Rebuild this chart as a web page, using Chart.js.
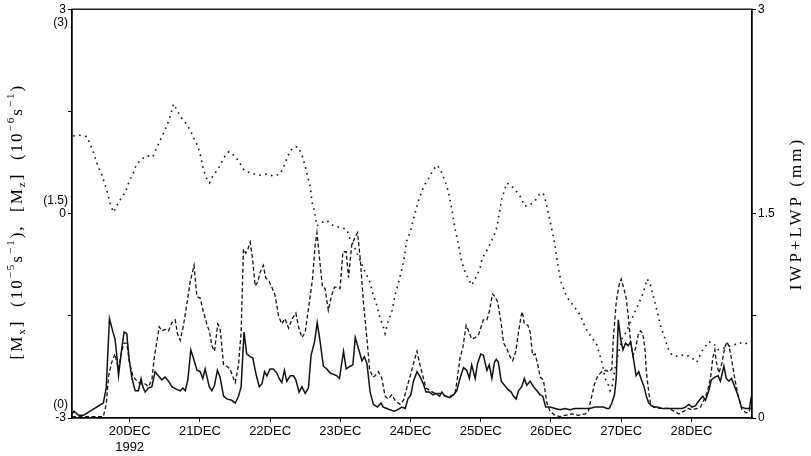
<!DOCTYPE html>
<html>
<head>
<meta charset="utf-8">
<script src="https://cdn.jsdelivr.net/npm/chart.js@4.4.0/dist/chart.umd.min.js"></script>
<style>
  html, body { margin: 0; padding: 0; background: #fff; }
  #wrap { width: 811px; height: 456px; }
</style>
</head>
<body>
<div id="wrap"><canvas id="chart" width="811" height="456"></canvas></div>
<script>
// time axis: hours counted from 19 DEC 1992 00Z
const dayHours = [24, 48, 72, 96, 120, 144, 168, 192, 216];
const dayLabels = ['20DEC', '21DEC', '22DEC', '23DEC', '24DEC', '25DEC', '26DEC', '27DEC', '28DEC'];
const yearLabel = '1992';

const mxTicks = [-3, 0, 3];          // left axis, [Mx] (10^-5 s^-1)
const mzTicks = [0, 1.5, 3];         // left axis in brackets, [Mz] (10^-6 s^-1)
const mzTickLabels = ['(0)', '(1.5)', '(3)'];
const wpTicks = [0, 1.5, 3];         // right axis, IWP+LWP (mm)

// [Mx] - dotted
const mxHours = [4.7, 6.8, 9.4, 10.5, 11.6, 13.3, 14.5, 16.2, 17.6, 18.5, 19.8, 21.3, 22.5, 23.9, 25.3, 26.2, 27.8, 29.9, 31.9, 33.1,
  34.4, 36.7, 37.6, 39.0, 40.3, 41.8, 43.5, 44.9, 46.0, 47.2, 48.1, 49.2, 50.1, 51.3, 52.6, 54.1, 55.5, 56.9, 58.0, 60.1,
  61.8, 63.2, 65.2, 68.0, 70.9, 73.1, 75.4, 76.6, 77.7, 78.9, 80.3, 81.5, 82.9, 84.0, 84.9, 85.7, 86.3, 87.2, 88.0, 89.7,
  91.4, 93.7, 95.6, 98.2, 99.1, 100.5, 101.6, 103.0, 104.5, 105.9, 107.3, 108.5, 109.6, 110.7, 111.3, 112.4, 113.6, 114.7, 116.2, 117.6,
  118.7, 119.9, 121.2, 122.7, 124.6, 126.1, 127.6, 129.0, 130.1, 131.0, 132.2, 133.0, 134.1, 135.2, 136.7, 137.5, 138.7, 139.8, 140.9, 142.7,
  143.8, 144.4, 145.7, 146.9, 148.0, 149.2, 149.8, 150.3, 151.2, 152.1, 152.9, 154.4, 156.3, 158.0, 158.9, 160.5, 162.6, 164.3, 165.4, 166.2,
  167.4, 168.5, 169.4, 170.0, 170.8, 171.5, 172.3, 173.4, 175.1, 176.5, 178.0, 179.1, 180.6, 182.2, 183.7, 184.5, 185.4, 186.5, 187.4, 188.2,
  189.0, 189.7, 190.6, 192.3, 193.7, 195.2, 196.7, 198.0, 199.4, 200.9, 202.0, 203.2, 204.3, 205.4, 206.6, 208.0, 209.4, 211.7, 213.4, 215.7,
  217.9, 219.4, 221.9, 223.7, 225.1, 226.7, 228.5, 230.5, 232.2, 234.2, 235.6, 236.7];
const mxValues = [1.14, 1.15, 1.13, 1.02, 0.90, 0.68, 0.57, 0.34, 0.11, 0.02, 0.13, 0.24, 0.31, 0.48, 0.60, 0.71, 0.79, 0.85, 0.83, 0.95,
  1.07, 1.29, 1.39, 1.61, 1.51, 1.40, 1.31, 1.21, 1.10, 1.00, 0.87, 0.65, 0.53, 0.45, 0.57, 0.64, 0.76, 0.87, 0.91, 0.84,
  0.73, 0.63, 0.60, 0.56, 0.58, 0.55, 0.58, 0.68, 0.81, 0.92, 0.98, 0.98, 0.86, 0.70, 0.53, 0.41, 0.17, 0.03, -0.18, -0.13,
  -0.10, -0.18, -0.20, -0.23, -0.35, -0.46, -0.57, -0.71, -0.86, -0.98, -1.20, -1.35, -1.54, -1.66, -1.76, -1.57, -1.44, -1.20, -0.96, -0.71,
  -0.40, -0.27, -0.05, 0.19, 0.41, 0.51, 0.63, 0.71, 0.66, 0.56, 0.43, 0.31, 0.07, -0.22, -0.52, -0.71, -0.86, -0.96, -1.05, -0.91,
  -0.79, -0.66, -0.57, -0.47, -0.37, -0.25, -0.13, 0.00, 0.22, 0.34, 0.45, 0.41, 0.32, 0.22, 0.11, 0.12, 0.19, 0.30, 0.29, 0.18,
  -0.05, -0.27, -0.47, -0.66, -0.86, -1.01, -1.10, -1.22, -1.32, -1.40, -1.49, -1.61, -1.74, -1.83, -1.93, -2.05, -2.18, -2.42, -2.49, -2.60,
  -2.52, -2.32, -2.13, -1.83, -1.74, -1.59, -1.44, -1.32, -1.18, -0.96, -1.05, -1.25, -1.44, -1.64, -1.79, -1.98, -2.08, -2.10, -2.07, -2.10,
  -2.18, -2.03, -1.88, -1.91, -2.00, -1.98, -1.95, -1.93, -1.89, -1.92, -1.88, -1.87];

// [Mz] - solid
const mzHours = [4.3, 5.0, 6.5, 8.2, 10.5, 15.0, 16.0, 17.1, 18.3, 19.0, 19.6, 20.2, 21.3, 22.1, 23.0, 23.8, 24.8, 25.9, 27.0, 27.9,
  28.5, 29.3, 30.4, 31.6, 32.7, 33.8, 35.0, 36.1, 37.3, 38.4, 40.1, 41.3, 42.2, 43.0, 43.9, 44.9, 45.8, 47.0, 48.1, 49.0,
  49.8, 51.2, 52.1, 53.0, 54.0, 54.9, 56.1, 57.2, 58.9, 60.1, 61.2, 62.1, 63.1, 64.0, 65.2, 66.1, 67.1, 68.3, 69.2, 70.1,
  70.9, 72.0, 73.1, 74.3, 75.1, 76.0, 76.9, 77.7, 78.9, 80.0, 80.8, 81.9, 82.9, 84.0, 85.1, 86.0, 87.2, 88.1, 89.1, 90.2,
  91.4, 92.5, 93.7, 94.8, 95.7, 97.1, 98.0, 99.4, 100.3, 101.1, 102.2, 103.4, 104.2, 105.1, 106.2, 107.3, 108.7, 109.9, 110.7, 111.9,
  113.0, 114.4, 115.5, 117.0, 118.2, 119.1, 120.1, 121.0, 122.2, 123.3, 124.4, 125.3, 126.5, 127.6, 128.7, 129.9, 130.7, 131.8, 133.3, 134.7,
  135.8, 136.9, 138.1, 139.2, 140.1, 140.9, 142.1, 142.9, 144.0, 144.9, 146.1, 146.9, 147.8, 148.7, 149.3, 150.0, 151.0, 152.1, 153.3, 154.4,
  155.2, 156.1, 156.9, 158.0, 158.9, 159.7, 160.9, 162.0, 163.2, 164.3, 165.2, 166.2, 167.7, 169.4, 171.1, 172.8, 174.5, 176.2, 177.9, 179.6,
  181.3, 183.0, 184.7, 185.9, 187.1, 187.9, 188.8, 189.7, 190.3, 191.0, 191.8, 192.6, 193.5, 194.4, 195.2, 196.0, 197.1, 198.0, 198.9, 199.8,
  200.6, 201.4, 202.3, 203.1, 204.3, 206.0, 207.7, 209.4, 211.1, 212.8, 214.0, 215.1, 216.2, 217.4, 218.7, 219.9, 220.8, 221.9, 222.8, 224.0,
  225.1, 225.9, 227.1, 227.9, 228.8, 229.7, 230.8, 232.0, 233.1, 234.5, 235.8, 236.5];
const mzValues = [0.03, 0.05, 0.02, 0.02, 0.05, 0.11, 0.22, 0.73, 0.63, 0.58, 0.46, 0.31, 0.51, 0.63, 0.62, 0.44, 0.29, 0.20, 0.20, 0.29,
  0.23, 0.19, 0.22, 0.23, 0.34, 0.31, 0.28, 0.30, 0.27, 0.23, 0.21, 0.20, 0.22, 0.20, 0.28, 0.50, 0.44, 0.35, 0.34, 0.29,
  0.36, 0.23, 0.20, 0.24, 0.35, 0.30, 0.16, 0.14, 0.13, 0.11, 0.16, 0.23, 0.63, 0.47, 0.45, 0.44, 0.33, 0.23, 0.25, 0.34,
  0.31, 0.36, 0.36, 0.33, 0.29, 0.26, 0.35, 0.27, 0.31, 0.31, 0.28, 0.19, 0.23, 0.18, 0.22, 0.46, 0.56, 0.70, 0.56, 0.38,
  0.36, 0.33, 0.32, 0.31, 0.29, 0.49, 0.36, 0.38, 0.39, 0.59, 0.51, 0.42, 0.45, 0.40, 0.19, 0.10, 0.08, 0.11, 0.08, 0.07,
  0.06, 0.05, 0.06, 0.08, 0.07, 0.14, 0.17, 0.27, 0.34, 0.30, 0.25, 0.19, 0.19, 0.17, 0.18, 0.16, 0.19, 0.16, 0.15, 0.17,
  0.20, 0.29, 0.37, 0.35, 0.29, 0.39, 0.29, 0.40, 0.47, 0.46, 0.35, 0.39, 0.29, 0.41, 0.43, 0.41, 0.27, 0.24, 0.21, 0.19,
  0.16, 0.14, 0.20, 0.23, 0.29, 0.24, 0.27, 0.23, 0.20, 0.17, 0.16, 0.08, 0.08, 0.07, 0.06, 0.07, 0.06, 0.07, 0.07, 0.07,
  0.07, 0.08, 0.08, 0.08, 0.07, 0.07, 0.11, 0.17, 0.29, 0.72, 0.58, 0.50, 0.55, 0.53, 0.56, 0.46, 0.31, 0.34, 0.28, 0.23,
  0.16, 0.11, 0.09, 0.08, 0.08, 0.07, 0.07, 0.07, 0.07, 0.07, 0.08, 0.10, 0.08, 0.09, 0.13, 0.16, 0.13, 0.20, 0.28, 0.30,
  0.31, 0.27, 0.38, 0.29, 0.27, 0.29, 0.23, 0.16, 0.08, 0.07, 0.07, 0.16];

// IWP+LWP - dashed
const wpHours = [4.3, 15.0, 16.0, 16.8, 17.9, 19.0, 19.6, 20.2, 21.3, 22.1, 23.0, 23.9, 25.1, 26.5, 27.8, 29.3, 30.4, 31.6, 32.4, 33.3,
  34.1, 35.0, 36.1, 37.3, 38.4, 39.6, 40.3, 41.3, 42.4, 43.5, 44.7, 46.0, 47.0, 48.1, 49.2, 50.4, 51.3, 52.1, 53.0, 54.1,
  54.9, 56.1, 57.2, 58.3, 59.5, 60.1, 61.2, 62.1, 62.9, 63.7, 64.4, 65.2, 66.0, 66.9, 67.8, 68.6, 69.7, 70.5, 71.7, 72.6,
  73.7, 74.9, 76.0, 77.1, 78.3, 79.6, 80.8, 81.7, 82.9, 84.0, 85.3, 86.5, 87.4, 88.0, 88.9, 89.9, 90.8, 91.9, 92.9, 94.0,
  95.2, 95.9, 96.9, 98.0, 98.8, 99.9, 101.1, 101.9, 102.8, 103.9, 105.1, 106.0, 107.1, 107.9, 109.0, 110.2, 111.3, 112.4, 113.6, 114.7,
  116.4, 117.6, 118.7, 119.9, 121.0, 122.2, 123.0, 124.4, 125.3, 126.7, 128.4, 130.1, 131.8, 133.5, 135.2, 136.0, 136.9, 137.9, 139.0, 139.8,
  140.9, 142.1, 143.2, 144.9, 146.1, 146.9, 148.0, 148.9, 149.8, 151.0, 151.8, 152.9, 154.0, 154.9, 156.0, 156.9, 157.8, 158.2, 158.9, 160.1,
  160.9, 161.7, 162.6, 163.5, 164.3, 165.4, 166.6, 167.7, 169.4, 171.1, 172.8, 175.1, 177.4, 179.7, 180.8, 181.7, 182.9, 184.0, 185.4, 186.7,
  187.9, 188.8, 189.3, 190.3, 191.2, 192.0, 192.9, 193.7, 194.4, 195.2, 196.0, 196.9, 197.8, 198.6, 199.4, 200.1, 200.6, 201.4, 202.0, 203.1,
  204.9, 206.6, 208.3, 210.0, 211.7, 213.4, 214.9, 216.2, 217.9, 219.1, 220.2, 221.4, 222.5, 223.3, 224.0, 224.5, 225.4, 226.5, 227.4, 228.2,
  229.0, 229.9, 230.8, 232.0, 233.3, 234.5, 235.6, 236.5];
const wpValues = [0.01, 0.01, 0.10, 0.31, 0.41, 0.47, 0.41, 0.36, 0.49, 0.55, 0.55, 0.41, 0.31, 0.27, 0.25, 0.25, 0.23, 0.28, 0.44, 0.56,
  0.67, 0.64, 0.65, 0.64, 0.70, 0.72, 0.62, 0.57, 0.68, 0.83, 1.00, 1.12, 0.89, 0.88, 0.78, 0.69, 0.63, 0.53, 0.49, 0.69,
  0.66, 0.39, 0.38, 0.36, 0.29, 0.26, 0.39, 0.63, 1.24, 1.21, 1.24, 1.29, 1.17, 0.97, 1.00, 1.07, 1.12, 1.03, 1.00, 0.96,
  0.90, 0.75, 0.69, 0.73, 0.66, 0.73, 0.77, 0.67, 0.59, 0.63, 0.83, 1.02, 1.27, 1.36, 1.17, 0.96, 0.95, 0.79, 0.89, 0.96,
  0.96, 0.95, 1.22, 1.22, 1.03, 1.27, 1.33, 1.36, 1.17, 0.85, 0.58, 0.36, 0.30, 0.31, 0.34, 0.29, 0.16, 0.14, 0.17, 0.13,
  0.10, 0.13, 0.22, 0.31, 0.40, 0.49, 0.41, 0.29, 0.22, 0.20, 0.18, 0.18, 0.16, 0.16, 0.18, 0.29, 0.44, 0.52, 0.68, 0.64,
  0.58, 0.59, 0.61, 0.72, 0.72, 0.78, 0.91, 0.89, 0.85, 0.69, 0.55, 0.51, 0.45, 0.42, 0.49, 0.63, 0.75, 0.78, 0.69, 0.68,
  0.63, 0.46, 0.47, 0.39, 0.30, 0.28, 0.11, 0.05, 0.02, 0.01, 0.02, 0.03, 0.02, 0.03, 0.05, 0.14, 0.25, 0.31, 0.34, 0.35,
  0.34, 0.36, 0.58, 0.85, 0.97, 1.02, 0.95, 0.88, 0.75, 0.56, 0.46, 0.51, 0.61, 0.64, 0.62, 0.51, 0.34, 0.19, 0.11, 0.08,
  0.07, 0.07, 0.07, 0.05, 0.03, 0.05, 0.07, 0.06, 0.07, 0.08, 0.13, 0.19, 0.29, 0.44, 0.50, 0.41, 0.33, 0.41, 0.52, 0.56,
  0.51, 0.41, 0.29, 0.16, 0.06, 0.04, 0.04, 0.10];

function pairs(xs, ys) {
    return xs.map(function (h, i) { return { x: h, y: ys[i] }; });
}

// frame, bracketed [Mz] labels and the two rotated axis titles
const decorPlugin = {
    id: 'decor',
    afterDraw: function (chart) {
        const ctx = chart.ctx;
        const area = chart.chartArea;
        ctx.save();
        ctx.strokeStyle = '#000';
        ctx.lineWidth = 1.3;
        ctx.strokeRect(area.left, area.top, area.right - area.left, area.bottom - area.top);

        // bracketed labels for [Mz]
        const mz = chart.scales.yMz;
        ctx.fillStyle = '#000';
        ctx.font = '12px "Liberation Sans", Arial, sans-serif';
        ctx.textAlign = 'right';
        ctx.textBaseline = 'middle';
        mzTicks.forEach(function (v, i) {
            const y = mz.getPixelForValue(v);
            const off = v === mz.max ? 13 : -13;
            ctx.fillText(mzTickLabels[i], area.left - 4, y + off);
        });

        // left title with sub/superscripts
        const parts = [
            ['[M', 'n'], ['x', 'sub'], [']  (10', 'n'], ['\u22125', 'sup'], ['s', 'n'], ['\u22121', 'sup'],
            ['),  [M', 'n'], ['z', 'sub'], [']  (10', 'n'], ['\u22126', 'sup'], ['s', 'n'], ['\u22121', 'sup'], [')', 'n']
        ];
        const fonts = {
            n: '17px "Liberation Serif", "Times New Roman", serif',
            sub: '11px "Liberation Serif", "Times New Roman", serif',
            sup: '11px "Liberation Serif", "Times New Roman", serif'
        };
        const shift = { n: 0, sub: 4, sup: -7 };
        ctx.letterSpacing = '2px';
        let total = 0;
        parts.forEach(function (p) { ctx.font = fonts[p[1]]; total += ctx.measureText(p[0]).width; });
        ctx.translate(18, (area.top + area.bottom) / 2 + 8);
        ctx.rotate(-Math.PI / 2);
        ctx.textAlign = 'left';
        ctx.textBaseline = 'middle';
        let x = -total / 2;
        parts.forEach(function (p) {
            ctx.font = fonts[p[1]];
            ctx.fillText(p[0], x, shift[p[1]]);
            x += ctx.measureText(p[0]).width;
        });
        ctx.restore();

        // right title
        ctx.save();
        ctx.letterSpacing = '3px';
        ctx.fillStyle = '#000';
        ctx.font = '17px "Liberation Serif", "Times New Roman", serif';
        ctx.translate(797, (area.top + area.bottom) / 2);
        ctx.rotate(-Math.PI / 2);
        ctx.textAlign = 'center';
        ctx.textBaseline = 'middle';
        ctx.fillText('IWP+LWP (mm)', 0, 0);
        ctx.restore();
    }
};

const tickFont = { family: '"Liberation Sans", Arial, sans-serif', size: 12 };

const ctx = document.getElementById('chart').getContext('2d');
const chart = new Chart(ctx, {
    type: 'line',
    data: {
        datasets: [{
            label: '[Mz]',
            data: pairs(mzHours, mzValues),
            yAxisID: 'yMz',
            borderColor: '#111',
            borderWidth: 1.5,
            pointRadius: 0,
            tension: 0
        }, {
            label: 'IWP+LWP',
            data: pairs(wpHours, wpValues),
            yAxisID: 'y1',
            borderColor: '#111',
            borderWidth: 1.3,
            borderDash: [4, 2.5],
            pointRadius: 0,
            tension: 0
        }, {
            label: '[Mx]',
            data: pairs(mxHours, mxValues),
            yAxisID: 'y',
            borderColor: '#111',
            borderWidth: 1.6,
            borderDash: [1.6, 4.4],
            pointRadius: 0,
            tension: 0
        }]
    },
    options: {
        responsive: false,
        animation: false,
        devicePixelRatio: 1,
        layout: { padding: { top: 8, left: 0, right: 0, bottom: 0 } },
        plugins: { legend: { display: false }, tooltip: { enabled: false } },
        scales: {
            x: {
                type: 'linear',
                min: 4.3,
                max: 236.7,
                afterBuildTicks: function (axis) {
                    axis.ticks = dayHours.map(function (h) { return { value: h }; });
                },
                afterFit: function (axis) { axis.height = 38; },
                ticks: {
                    autoSkip: false,
                    maxRotation: 0,
                    padding: 2,
                    color: '#000',
                    font: { family: '"Liberation Sans", Arial, sans-serif', size: 13 },
                    callback: function (v) {
                        const i = dayHours.indexOf(v);
                        if (i < 0) return '';
                        return i === 0 ? [dayLabels[i], yearLabel] : dayLabels[i];
                    }
                },
                grid: { drawOnChartArea: false, tickLength: 4, color: '#000' },
                border: { color: '#000', width: 1.3 }
            },
            y: {
                position: 'left',
                min: -3,
                max: 3,
                afterBuildTicks: function (axis) {
                    axis.ticks = [-3, -1.5, 0, 1.5, 3].map(function (v) { return { value: v }; });
                },
                afterFit: function (axis) { axis.width = 72; },
                ticks: {
                    color: '#000',
                    font: tickFont,
                    padding: 2,
                    callback: function (v) { return mxTicks.indexOf(v) >= 0 ? String(v) : ''; }
                },
                grid: { drawOnChartArea: false, tickLength: 4, color: '#000' },
                border: { color: '#000', width: 1.3 }
            },
            yMz: {
                display: false,
                min: 0,
                max: 3
            },
            y1: {
                position: 'right',
                min: 0,
                max: 3,
                afterBuildTicks: function (axis) {
                    axis.ticks = [0, 0.75, 1.5, 3].map(function (v) { return { value: v }; });
                },
                afterFit: function (axis) { axis.width = 59; },
                ticks: {
                    color: '#000',
                    font: tickFont,
                    padding: 2,
                    callback: function (v) { return wpTicks.indexOf(v) >= 0 ? String(v) : ''; }
                },
                grid: { drawOnChartArea: false, tickLength: 4, color: '#000' },
                border: { color: '#000', width: 1.3 }
            }
        }
    },
    plugins: [decorPlugin]
});
</script>
</body>
</html>
